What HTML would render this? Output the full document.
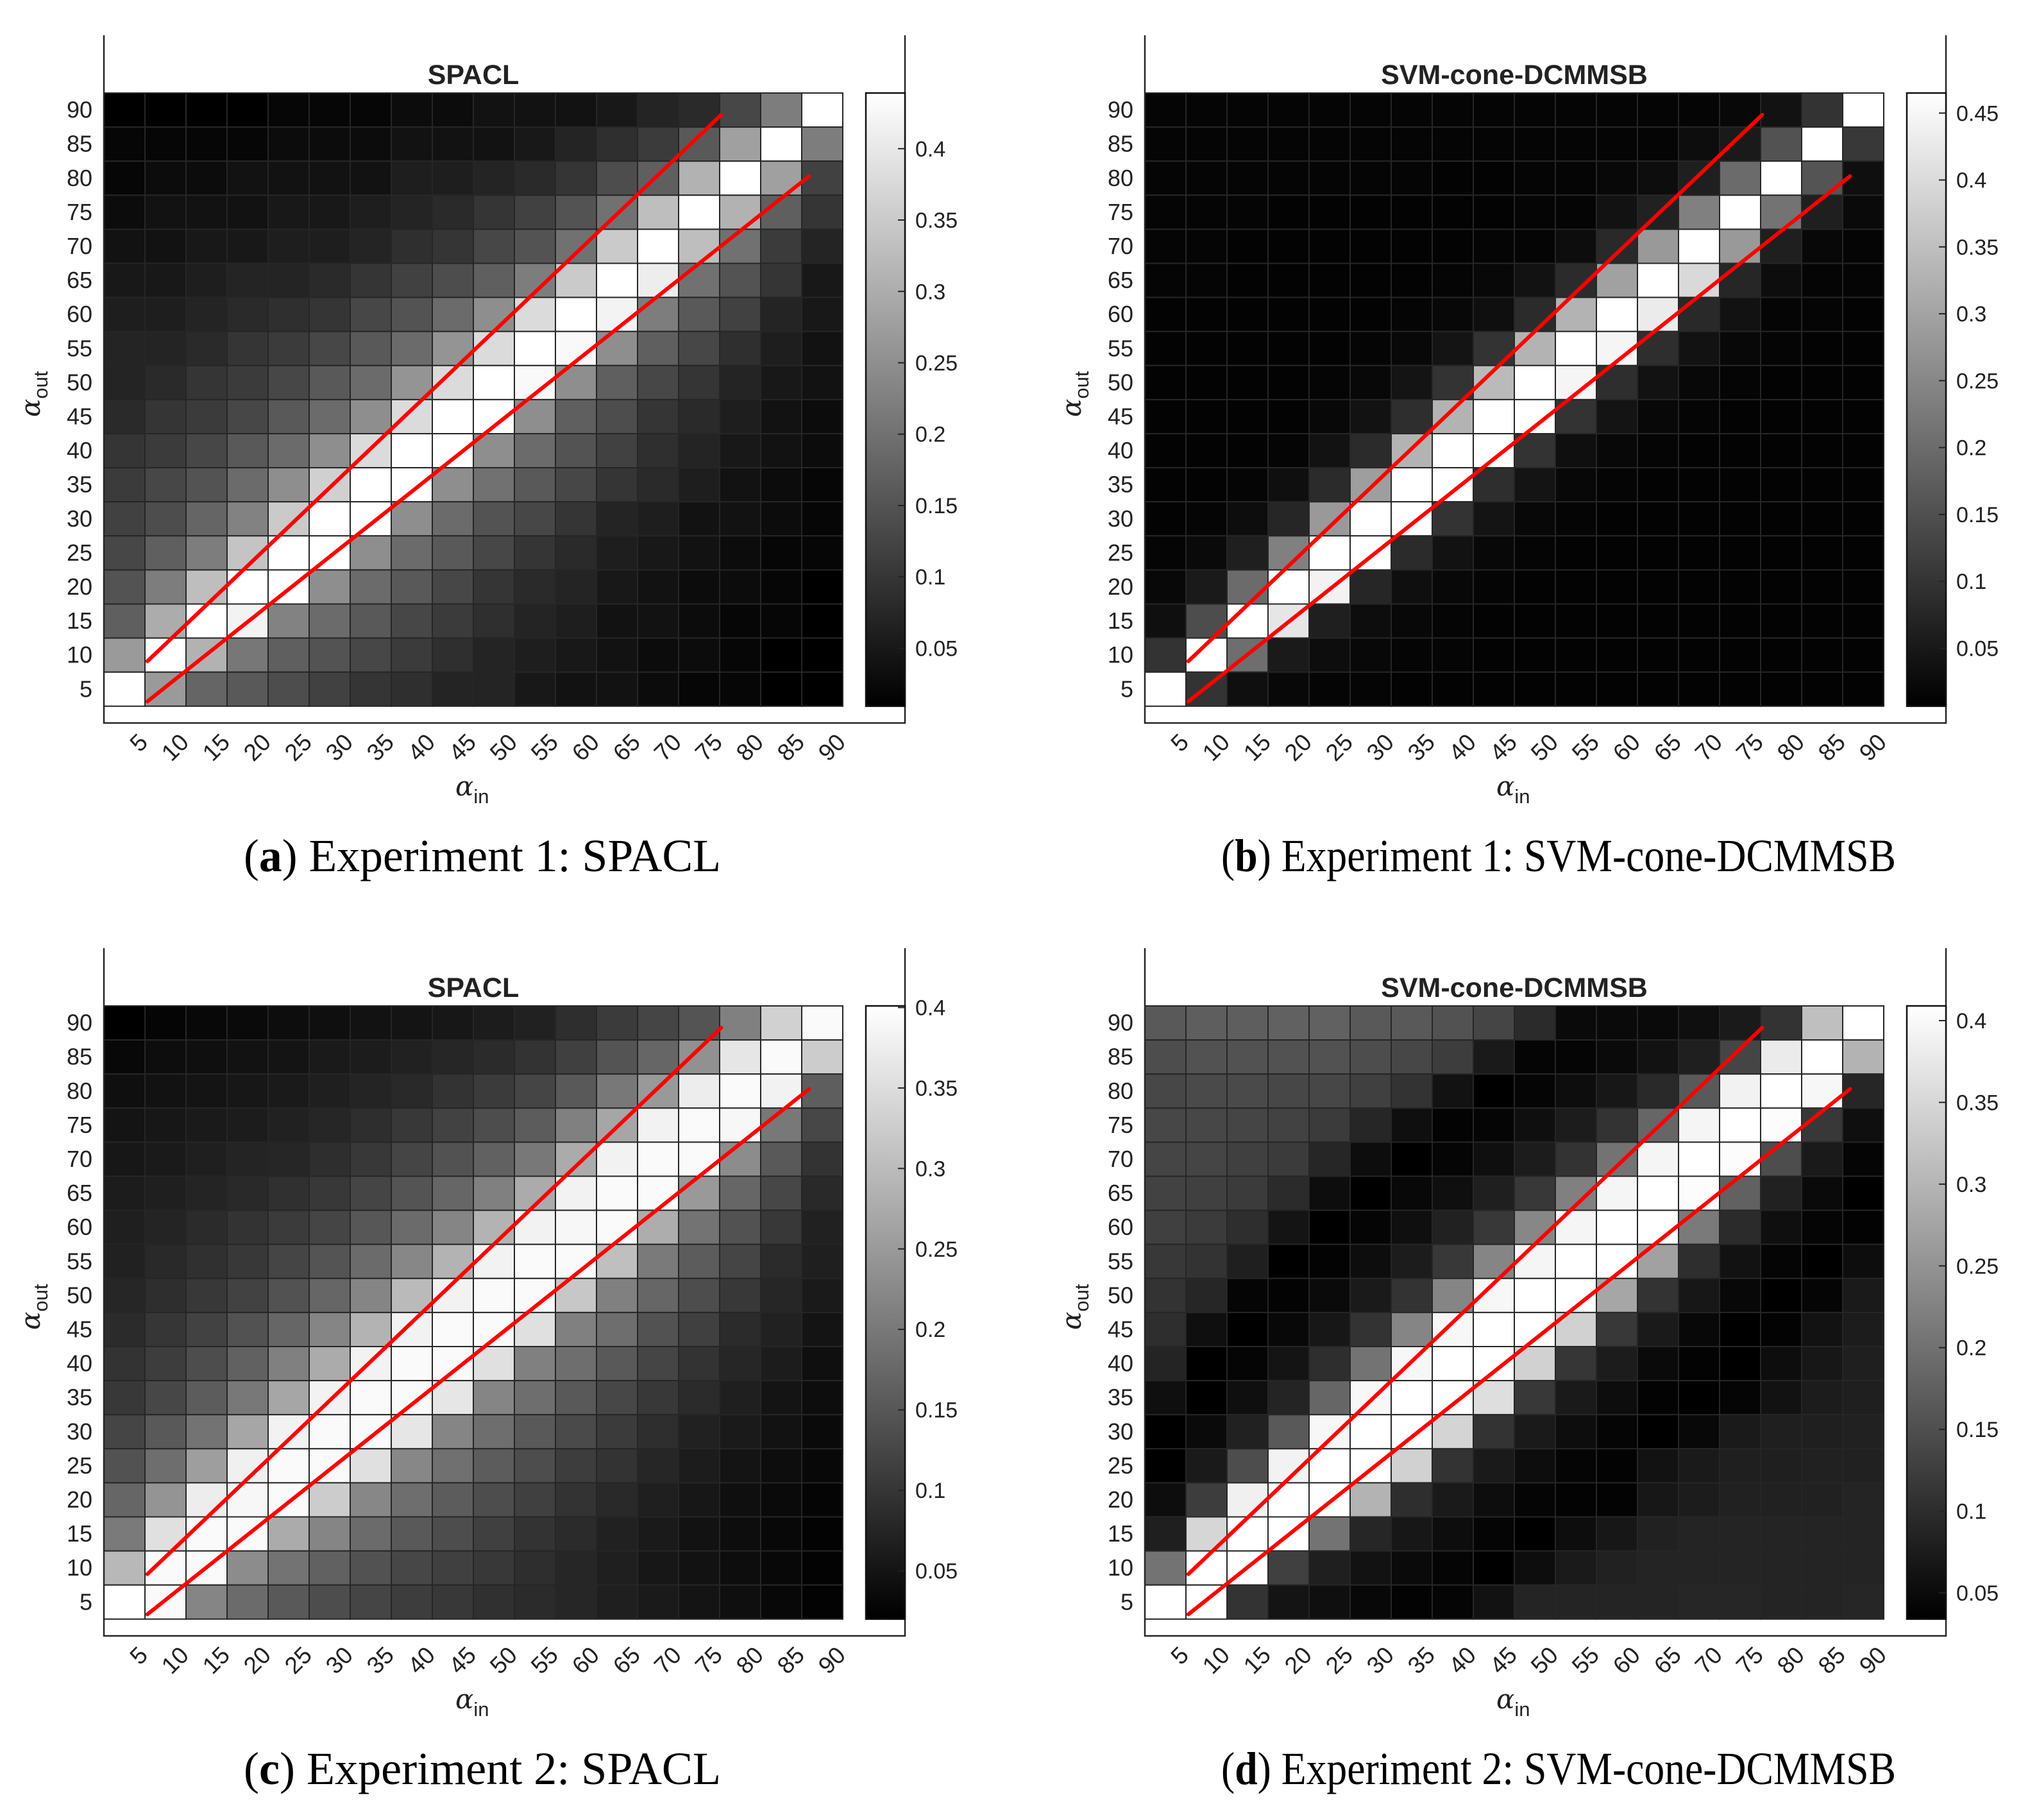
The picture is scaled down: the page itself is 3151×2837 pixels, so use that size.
<!DOCTYPE html>
<html><head><meta charset="utf-8"><style>
html,body{margin:0;padding:0;background:#fff;}
svg{display:block;}
</style></head><body>
<svg id="fig" width="3151" height="2837" viewBox="0 0 3151 2837" xmlns="http://www.w3.org/2000/svg" font-family="Liberation Sans, sans-serif"></svg>
<script>
const categories = [5,10,15,20,25,30,35,40,45,50,55,60,65,70,75,80,85,90];
// rows listed from alpha_out = 90 (top) down to 5 (bottom)
const valuesA = [
[1,1,1,1,2,2,2,3,3,4,4,4,5,7,8,13,22,44],
[2,2,2,2,3,3,3,4,4,4,5,7,9,11,16,28,44,22],
[2,3,3,4,4,4,4,6,6,7,8,10,14,17,31,44,28,12],
[3,4,4,4,5,5,6,7,8,10,12,15,20,33,44,31,17,10],
[4,4,5,5,6,6,7,9,10,13,15,20,35,44,33,20,11,7],
[5,5,6,7,7,8,10,12,14,17,22,35,44,41,20,15,10,5],
[6,6,7,8,9,10,13,15,19,25,38,44,42,22,16,12,7,5],
[7,7,8,10,11,13,16,19,26,38,44,43,25,17,13,9,6,4],
[7,8,10,11,13,16,19,26,38,44,43,25,17,13,10,7,5,4],
[8,10,11,13,16,19,25,38,44,44,25,17,14,10,8,6,4,3],
[10,11,13,16,19,25,38,44,44,25,19,15,12,9,7,5,4,3],
[11,13,15,19,25,36,44,44,25,20,16,13,10,8,6,4,3,2],
[12,14,18,23,35,44,44,25,19,15,13,10,7,6,4,4,3,2],
[13,17,22,34,44,44,25,19,16,13,10,8,6,5,4,3,2,2],
[15,22,33,44,44,25,19,16,13,10,8,7,5,4,3,3,2,1],
[17,30,44,42,23,19,16,13,11,9,7,6,4,4,3,2,2,1],
[27,44,31,21,17,15,13,11,9,7,6,5,4,3,3,2,1,1],
[44,27,18,16,14,12,10,9,7,7,5,4,4,3,2,2,1,1]];
const valuesB = [
[.02,.02,.02,.02,.02,.02,.02,.02,.02,.02,.02,.02,.02,.02,.03,.07,.2,1],
[.02,.02,.02,.02,.02,.02,.02,.02,.02,.02,.02,.02,.02,.05,.1,.32,1,.22],
[.02,.02,.02,.02,.02,.02,.02,.01,.01,.02,.02,.03,.05,.12,.42,1,.33,.06],
[.02,.02,.02,.01,.01,.01,.01,.01,.01,.02,.02,.07,.13,.5,1,.45,.12,.04],
[.02,.02,.01,.01,.01,.01,.01,.01,.02,.02,.05,.16,.6,1,.6,.12,.03,.02],
[.02,.02,.01,.01,.01,.01,.01,.02,.03,.07,.17,.63,1,.85,.15,.05,.02,.02],
[.01,.01,.01,.01,.01,.01,.02,.03,.06,.17,.7,1,.92,.16,.07,.02,.02,.01],
[.01,.01,.01,.01,.01,.02,.03,.08,.2,.7,1,.96,.18,.07,.03,.02,.01,.01],
[.01,.01,.01,.01,.02,.03,.08,.2,.73,1,.96,.18,.07,.03,.02,.01,.01,.01],
[.01,.01,.01,.01,.03,.07,.18,.7,1,1,.2,.08,.03,.02,.01,.01,.01,.01],
[.01,.01,.01,.02,.07,.17,.7,1,1,.2,.06,.03,.02,.01,.01,.01,.01,.01],
[.01,.01,.02,.06,.17,.62,1,1,.18,.08,.03,.02,.01,.01,.01,.01,.01,.01],
[.01,.02,.05,.15,.6,1,1,.2,.08,.03,.02,.01,.01,.01,.01,.01,.01,.01],
[.02,.04,.12,.5,1,1,.17,.07,.03,.02,.01,.01,.01,.01,.01,.01,.01,.01],
[.03,.1,.42,1,.95,.15,.06,.03,.02,.01,.01,.01,.01,.01,.01,.01,.01,.01],
[.06,.3,1,.9,.12,.05,.03,.02,.01,.01,.01,.01,.01,.01,.01,.01,.01,.01],
[.2,1,.43,.1,.05,.03,.02,.02,.01,.01,.01,.01,.01,.01,.01,.01,.01,.01],
[1,.2,.06,.03,.02,.02,.01,.01,.01,.01,.01,.01,.01,.01,.01,.01,.01,.01]];
const valuesC = [
[0,.02,.03,.04,.05,.06,.07,.08,.09,.11,.13,.18,.23,.27,.33,.5,.82,.98],
[.03,.05,.06,.07,.08,.1,.11,.13,.15,.17,.2,.25,.33,.4,.57,.9,.98,.8],
[.06,.07,.08,.09,.1,.12,.14,.16,.2,.23,.27,.35,.47,.6,.93,.98,.95,.37],
[.08,.09,.1,.11,.13,.15,.18,.22,.26,.3,.36,.5,.65,.95,.98,.97,.47,.28],
[.09,.1,.12,.14,.15,.18,.22,.27,.32,.38,.47,.67,.95,.98,.98,.55,.35,.2],
[.11,.12,.14,.16,.19,.22,.27,.33,.4,.5,.67,.95,.98,.98,.6,.4,.28,.16],
[.12,.14,.17,.2,.23,.27,.34,.42,.52,.7,.95,.97,.98,.68,.45,.32,.22,.13],
[.13,.16,.19,.22,.27,.33,.42,.53,.7,.95,.98,.98,.75,.48,.36,.27,.17,.12],
[.15,.18,.22,.26,.32,.4,.52,.73,.95,.98,.98,.78,.5,.4,.3,.22,.15,.1],
[.17,.21,.26,.32,.4,.52,.7,.95,.98,.98,.88,.5,.43,.32,.25,.17,.13,.08],
[.2,.24,.3,.38,.5,.67,.95,.98,.98,.88,.5,.43,.35,.27,.2,.15,.11,.06],
[.22,.28,.36,.47,.65,.95,.98,.98,.9,.52,.43,.35,.28,.22,.17,.12,.08,.05],
[.27,.35,.45,.65,.95,.98,.98,.9,.52,.43,.35,.29,.23,.18,.13,.1,.07,.04],
[.32,.43,.62,.94,.98,.98,.88,.53,.44,.36,.3,.24,.2,.15,.11,.08,.05,.03],
[.4,.58,.93,.97,.98,.8,.53,.43,.36,.3,.25,.2,.16,.12,.09,.06,.04,.02],
[.48,.88,.98,.98,.67,.52,.42,.35,.3,.25,.2,.17,.13,.1,.07,.05,.03,.01],
[.72,.98,.98,.55,.45,.38,.32,.28,.25,.22,.18,.15,.12,.09,.07,.05,.03,.01],
[1,.98,.52,.42,.35,.3,.27,.24,.22,.19,.17,.15,.12,.1,.08,.06,.03,.01]];
const valuesD = [
[.35,.37,.37,.38,.38,.35,.35,.32,.27,.17,.04,.04,.04,.06,.1,.2,.75,1],
[.3,.32,.32,.32,.32,.3,.28,.24,.1,.02,.02,.04,.07,.12,.27,.92,1,.7],
[.28,.29,.29,.28,.28,.25,.2,.07,0,.02,.05,.09,.16,.35,.95,1,.97,.15],
[.28,.28,.27,.26,.23,.15,.06,.01,.02,.06,.11,.2,.4,.96,1,.99,.22,.06],
[.27,.27,.25,.23,.15,.05,0,.02,.06,.11,.2,.45,.96,1,.99,.3,.1,.02],
[.26,.25,.23,.17,.05,0,.03,.06,.12,.22,.5,.96,1,.99,.38,.13,.04,0],
[.25,.23,.18,.08,0,.02,.06,.13,.22,.53,.96,1,1,.48,.17,.06,.02,.01],
[.22,.2,.12,0,.01,.05,.11,.22,.52,.96,1,1,.63,.18,.07,.02,0,.05],
[.2,.15,.02,.01,.04,.1,.2,.52,.97,1,1,.65,.2,.09,.03,0,.02,.1],
[.18,.06,0,.03,.09,.2,.52,.97,1,1,.82,.22,.1,.03,0,.01,.07,.11],
[.14,0,.02,.08,.18,.45,.97,1,1,.82,.21,.11,.04,.01,0,.05,.09,.12],
[.06,0,.06,.14,.4,.97,1,1,.87,.22,.1,.05,.01,0,.02,.07,.11,.12],
[0,.04,.13,.35,.97,1,1,.83,.2,.1,.05,.02,0,.03,.1,.12,.12,.13],
[0,.1,.3,.95,1,1,.82,.2,.1,.05,.02,.01,.07,.1,.12,.12,.13,.13],
[.05,.24,.94,1,1,.7,.18,.1,.05,.02,.01,.01,.09,.11,.13,.13,.13,.14],
[.12,.84,1,1,.45,.15,.09,.05,.02,0,.05,.09,.13,.14,.14,.14,.14,.14],
[.45,1,1,.25,.12,.07,.04,.02,0,.05,.1,.13,.14,.14,.14,.14,.14,.14],
[1,1,.2,.08,.06,.03,.01,.02,.07,.14,.14,.14,.14,.15,.15,.14,.14,.15]];
const ticksA = [0.05,0.1,0.15,0.2,0.25,0.3,0.35,0.4];
const ticksB = [0.05,0.1,0.15,0.2,0.25,0.3,0.35,0.4,0.45];
const ticksC = [0.05,0.1,0.15,0.2,0.25,0.3,0.35,0.4];
const ticksD = [0.05,0.1,0.15,0.2,0.25,0.3,0.35,0.4];
const upperLineX = [7.8,77.7];
const upperLineY = [9.1,89.3];
const lowerLineX = [7.8,88.4];
const lowerLineY = [3.2,80.3];

const NS='http://www.w3.org/2000/svg';
const fig=document.getElementById('fig');
function mk(tag,attrs,parent){const e=document.createElementNS(NS,tag);for(const k in attrs)e.setAttribute(k,attrs[k]);(parent||fig).appendChild(e);return e;}

const panels=[
 {id:'a',ox:0,oy:0,title:'SPACL',cap:'Experiment 1: SPACL',capCx:752,capW:744,vals:valuesA,cmin:1,cmax:44,ticks:ticksA,tmin:0.0094,tmax:0.439},
 {id:'b',ox:1623,oy:0,title:'SVM-cone-DCMMSB',cap:'Experiment 1: SVM-cone-DCMMSB',capCx:807,capW:1052,vals:valuesB,cmin:0,cmax:1,ticks:ticksB,tmin:0.0067,tmax:0.465},
 {id:'c',ox:0,oy:1423,title:'SPACL',cap:'Experiment 2: SPACL',capCx:752,capW:744,vals:valuesC,cmin:0,cmax:1,ticks:ticksC,tmin:0.020,tmax:0.401},
 {id:'d',ox:1623,oy:1423,title:'SVM-cone-DCMMSB',cap:'Experiment 2: SVM-cone-DCMMSB',capCx:807,capW:1052,vals:valuesD,cmin:0,cmax:1,ticks:ticksD,tmin:0.034,tmax:0.409}
];
const HL=162,HT=145,CW=64,CH=53.1,N=18;
const BL=162,BR=1411,BT=55,BB=1127,CBL=1350,CBR=1411;

panels.forEach(p=>{
  const g=mk('g',{transform:`translate(${p.ox},${p.oy})`});
  
  
  const xs=v=>HL+(v-2.5)/5*CW;
  const ys=v=>HT+(92.5-v)/5*CH;
  const cells=mk('g',{},g);
  
  
  p.vals.forEach((row,r)=>{
    const yv=categories[N-1-r];
    row.forEach((v,c)=>{
      const xv=categories[c];
      let t=(v-p.cmin)/(p.cmax-p.cmin);t=Math.max(0,Math.min(1,t));
      const k=Math.round(t*255);
      const rc=mk('rect',{x:xs(xv)-CW/2,y:ys(yv)-CH/2,width:CW,height:CH,fill:`rgb(${k},${k},${k})`,stroke:'#262626','stroke-width':2},cells);
      
      
    });
  });
  [[upperLineX,upperLineY,'upper'],[lowerLineX,lowerLineY,'lower']].forEach(([lx,ly,n])=>{
    const l=mk('line',{x1:xs(lx[0]),y1:ys(ly[0]),x2:xs(lx[1]),y2:ys(ly[1]),stroke:'#ff0000','stroke-width':6,'stroke-linecap':'round'},g);
    
    
  });
  const box=mk('path',{d:`M${BL},${BT} V${BB} H${BR} V${BT}`,fill:'none',stroke:'#262626','stroke-width':2.5},g);
  
  
  const tt=mk('text',{x:HL+N*CW/2,y:131,'text-anchor':'middle','font-size':43,'font-weight':'bold',fill:'#222'},g);
  tt.textContent=p.title;
  
  
  categories.forEach(v=>{
    const t=mk('text',{x:144,y:ys(v)+12,'text-anchor':'end','font-size':36,fill:'#222'},g);
    t.textContent=v;
    
    
    const t2=mk('text',{transform:`translate(${xs(v)+20},${BB+14}) rotate(-45)`,'text-anchor':'end','font-size':37,fill:'#222',y:26},g);
    t2.textContent=v;
    
    
  });
  const xl=mk('text',{x:710,y:1240,'font-size':42,fill:'#222'},g);
  xl.innerHTML='<tspan font-style="italic" font-family="DejaVu Serif, serif">α</tspan><tspan font-size="31" dy="12">in</tspan>';
  
  
  const yl=mk('text',{transform:'translate(62,650) rotate(-90)','font-size':42,fill:'#222'},g);
  yl.innerHTML='<tspan font-style="italic" font-family="DejaVu Serif, serif">α</tspan><tspan font-size="31" dy="12">out</tspan>';
  
  
  const gid='grad'+p.id;
  const defs=mk('defs',{},g);
  const lg=mk('linearGradient',{id:gid,x1:0,y1:1,x2:0,y2:0},defs);
  mk('stop',{offset:0,'stop-color':'#000'},lg);
  mk('stop',{offset:1,'stop-color':'#fff'},lg);
  const cb=mk('rect',{x:CBL,y:HT,width:CBR-CBL,height:N*CH,fill:`url(#${gid})`,stroke:'#111','stroke-width':2.5},g);
  
  
  const cys=v=>HT+N*CH-(v-p.tmin)/(p.tmax-p.tmin)*N*CH;
  p.ticks.forEach(v=>{
    const y=cys(v);
    mk('line',{x1:CBR-11,y1:y,x2:CBR,y2:y,stroke:'#222','stroke-width':2},g);
    const t=mk('text',{x:CBR+16,y:y+12,'font-size':34,fill:'#222'},g);
    t.textContent=String(v);
    
    
  });
  const cap=mk('text',{x:p.capCx,y:1358,'text-anchor':'middle','font-size':72,'font-family':'Liberation Serif, serif',fill:'#000',textLength:p.capW,lengthAdjust:'spacingAndGlyphs'},g);
  cap.innerHTML=`(<tspan font-weight="bold">${p.id}</tspan>) ${p.cap}`;
  
  
});
</script>
</body></html>
